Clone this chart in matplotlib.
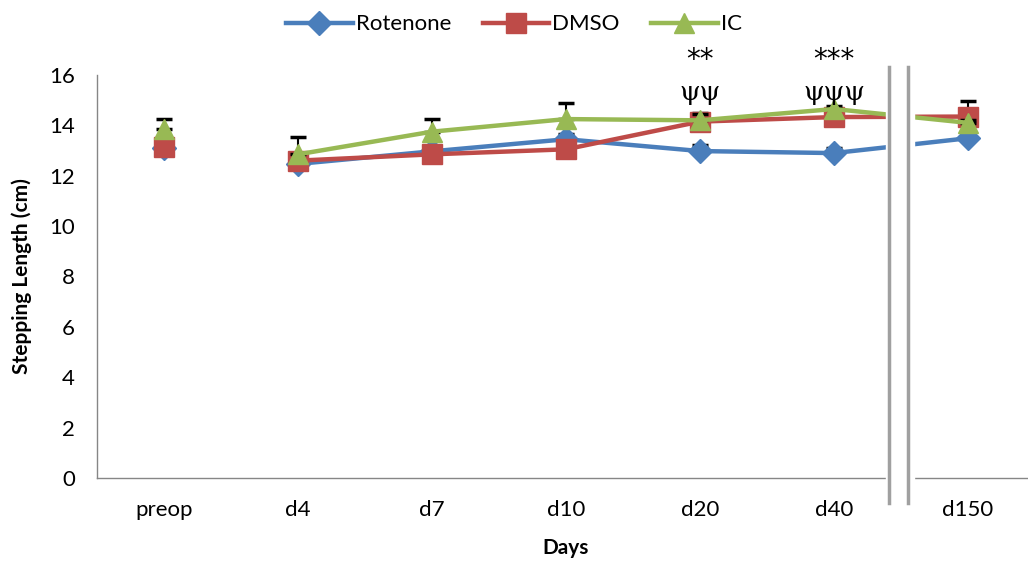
import matplotlib.pyplot as plt
import numpy as np

days = ['preop', 'd4', 'd7', 'd10', 'd20', 'd40', 'd150']
rotenone = [13.1, 12.47, 12.97, 13.45, 12.98, 12.9, 13.49]
dmso = [13.13, 12.6, 12.85, 13.05, 14.15, 14.33, 14.35]
ic = [13.85, 12.85, 13.75, 14.25, 14.2, 14.65, 14.1]
rotenone_err = [0.2, 0.2, 0.2, 0.2, 0.25, 0.2, 0.2]
dmso_err = [0.3, 0.3, 0.3, 0.3, 0.35, 0.3, 0.62]
ic_err = [0.42, 0.68, 0.5, 0.62, 0.25, 0.1, 0.1]
stars = {4: '**', 5: '***'}
psis = {4: 'ψψ', 5: 'ψψψ'}

plt.rcParams['font.family'] = ['Lato', 'DejaVu Sans']

fig = plt.figure(figsize=(10.28, 5.65), dpi=100)
ax = fig.add_axes([97 / 1028, 87 / 565, 938 / 1028, 403 / 565])

x = np.arange(len(days))
series = [('Rotenone', rotenone, rotenone_err, '#4A7EBB', 'D', 12),
          ('DMSO', dmso, dmso_err, '#BE4B48', 's', 14),
          ('IC', ic, ic_err, '#98B954', '^', 15)]
for name, vals, err, col, mk, ms in series:
    vals = np.array(vals)
    ax.errorbar(x, vals, yerr=[np.zeros(len(err)), err], fmt='none', ecolor='black',
                elinewidth=1.5, capsize=6, capthick=2.5)
    ax.plot(x[1:], vals[1:], color=col, lw=3.2, marker=mk, ms=ms, label=name)
    ax.plot(x[:1], vals[:1], color=col, lw=0, marker=mk, ms=ms)

for i, s in stars.items():
    ax.text(i, 16.6, s, ha='center', va='center', fontsize=20, family='DejaVu Sans')
for i, s in psis.items():
    ax.text(i, 15.3, s, ha='center', va='center', fontsize=19, family='DejaVu Serif')

# axis break between d40 and d150
ax.add_patch(plt.Rectangle((5.385, -1.2), 0.215, 17.6, color='white', zorder=5, clip_on=False))
for xb in [5.41, 5.555]:
    ax.plot([xb, xb], [-1.0, 16.3], color='#A0A0A0', lw=2.5, zorder=6, clip_on=False)

ax.set_xlim(-0.5, 6.5)
ax.set_ylim(0, 16)
ax.set_yticks(range(0, 17, 2))
ax.set_xticks(x)
ax.set_xticklabels(days)
ax.tick_params(axis='both', length=0, labelsize=16, pad=16)
for sp in ['top', 'right']:
    ax.spines[sp].set_visible(False)
for sp in ['left', 'bottom']:
    ax.spines[sp].set_color('#868686')
    ax.spines[sp].set_linewidth(1)

ax.set_xlabel('Days', fontsize=15, fontweight='bold', va='center')
ax.set_ylabel('Stepping Length (cm)', fontsize=15, fontweight='bold', va='center')
ax.xaxis.set_label_coords((566 - 97) / 938, -0.174)
ax.yaxis.set_label_coords(-0.08, 0.5)

fig.legend(loc='upper center', bbox_to_anchor=(0.5, 1.01), ncol=3, frameon=False,
           fontsize=16, handlelength=3, columnspacing=1.4, handletextpad=0.15)

plt.savefig('out.png', dpi=100)
